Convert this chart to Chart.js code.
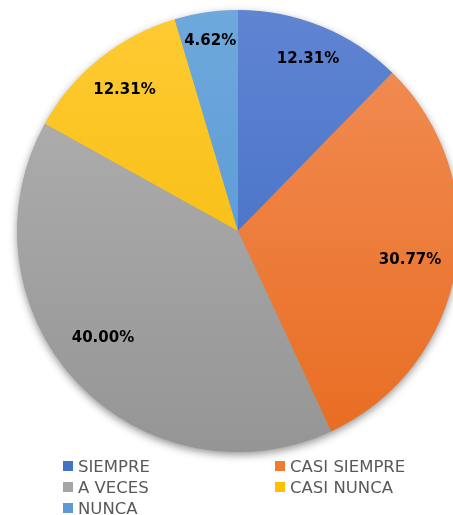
<!DOCTYPE html>
<html>
<head>
<meta charset="utf-8">
<script src="https://cdn.jsdelivr.net/npm/chart.js@4.4.0/dist/chart.umd.min.js"></script>
<style>
  html, body { margin: 0; padding: 0; background: #fff; overflow: hidden; }
  #wrap { position: absolute; left: 0; top: 0; width: 470px; height: 515px; }
  #legend { position: absolute; left: 0; top: 456px; width: 453px; font-family: "DejaVu Sans", sans-serif; font-size: 16.5px; color: #595959; }
  .item { position: absolute; height: 21px; line-height: 21px; white-space: nowrap; }
  .box { position: absolute; left: 0; top: 5px; width: 10px; height: 10px; }
  .txt { position: absolute; left: 15px; top: 0; }
</style>
</head>
<body>
<div id="wrap"><canvas id="myChart" width="470" height="515"></canvas></div>
<div id="legend"></div>
<script>
var categorias = ['SIEMPRE', 'CASI SIEMPRE', 'A VECES', 'CASI NUNCA', 'NUNCA'];
var porcentajes = [12.31, 30.77, 40.00, 12.31, 4.62];
var etiquetas = ['12.31%', '30.77%', '40.00%', '12.31%', '4.62%'];

// colores: arriba / abajo del degradado
var colorArriba = ['#5f84d2', '#f28f58', '#b3b3b3', '#ffcb33', '#6ea8dc'];
var colorAbajo = ['#3b69c2', '#e86c20', '#959595', '#f2b600', '#4f93d2'];
var colorLeyenda = ['#4472c4', '#ed7d31', '#a5a5a5', '#ffc000', '#5b9bd5'];
// distancia de la etiqueta al centro (fraccion del radio) y giro en grados
var distEtiqueta = [0.84, 0.79, 0.78, 0.82, 0.87];
var giroEtiqueta = [0, 0, 4.5, 0, 0];

function degradado(ctx, i) {
    var chart = ctx.chart;
    var area = chart.chartArea;
    if (!area) return colorLeyenda[i];
    var g = chart.ctx.createLinearGradient(0, area.top, 0, area.bottom);
    g.addColorStop(0, colorArriba[i]);
    g.addColorStop(1, colorAbajo[i]);
    return g;
}

// sombra de todo el circulo, dibujada antes de las porciones
var sombra = {
    id: 'sombra',
    beforeDatasetsDraw: function(chart) {
        var arc = chart.getDatasetMeta(0).data[0];
        if (!arc) return;
        var p = arc.getProps(['x', 'y', 'outerRadius'], true);
        var c = chart.ctx;
        c.save();
        c.shadowColor = 'rgba(0,0,0,0.45)';
        c.shadowBlur = 9;
        c.shadowOffsetX = 0;
        c.shadowOffsetY = 3;
        c.fillStyle = '#999';
        c.beginPath();
        c.arc(p.x, p.y, p.outerRadius - 0.5, 0, Math.PI * 2);
        c.fill();
        c.restore();
    }
};

var textos = {
    id: 'textos',
    afterDraw: function(chart) {
        var c = chart.ctx;
        var meta = chart.getDatasetMeta(0);
        c.save();
        c.font = 'bold 15px "DejaVu Sans", sans-serif';
        c.fillStyle = '#000';
        c.textAlign = 'center';
        c.textBaseline = 'middle';
        meta.data.forEach(function(arc, i) {
            var p = arc.getProps(['x', 'y', 'startAngle', 'endAngle', 'outerRadius'], true);
            var mid = (p.startAngle + p.endAngle) / 2 + giroEtiqueta[i] * Math.PI / 180;
            var r = p.outerRadius * distEtiqueta[i];
            c.fillText(etiquetas[i], p.x + Math.cos(mid) * r, p.y + Math.sin(mid) * r);
        });
        c.restore();
    }
};

var ctx = document.getElementById('myChart').getContext('2d');
var chart = new Chart(ctx, {
    type: 'pie',
    data: {
        labels: categorias,
        datasets: [{
            data: porcentajes,
            backgroundColor: function(c) { return degradado(c, c.dataIndex); },
            borderWidth: 0
        }]
    },
    options: {
        responsive: false,
        animation: false,
        layout: {
            padding: { left: 17, top: 10, right: 11, bottom: 63 }
        },
        plugins: {
            legend: { display: false },
            tooltip: { enabled: false }
        }
    },
    plugins: [sombra, textos]
});

// leyenda en dos columnas
var leyenda = document.getElementById('legend');
categorias.forEach(function(nombre, i) {
    var d = document.createElement('div');
    d.className = 'item';
    d.style.left = (i % 2 === 0 ? 63 : 275) + 'px';
    d.style.top = (Math.floor(i / 2) * 21) + 'px';
    d.innerHTML = '<span class="box" style="background:' + colorLeyenda[i] + '"></span><span class="txt">' + nombre + '</span>';
    leyenda.appendChild(d);
});
</script>
</body>
</html>
